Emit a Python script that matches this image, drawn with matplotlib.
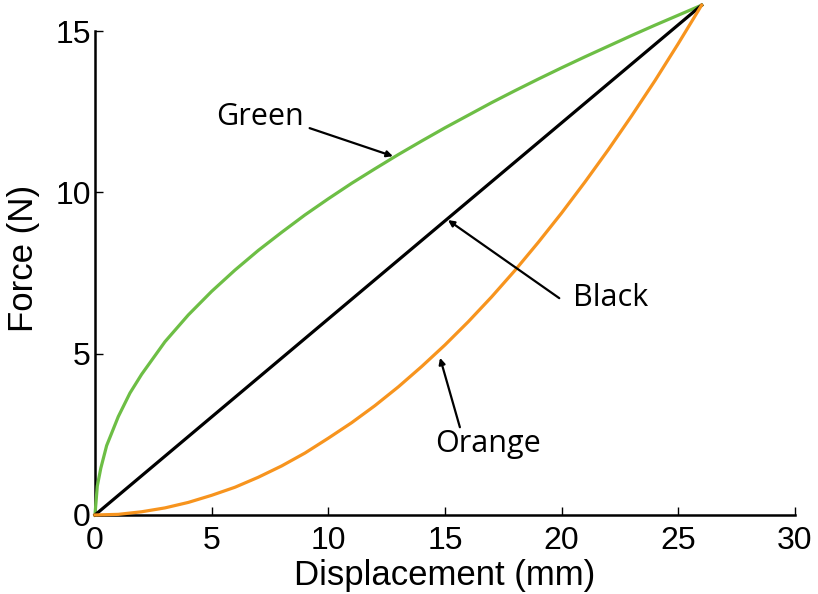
import numpy as np
import matplotlib
matplotlib.use('Agg')
import matplotlib.pyplot as plt

# values (displacement in mm, force in N)
green_x = [0, 0.1, 0.25, 0.5, 1, 1.5, 2, 3, 4, 5, 6, 7, 8, 9, 10, 11, 12, 13,
           14, 15, 16, 17, 18, 19, 20, 21, 22, 23, 24, 25, 26]
green_y = [0, 0.9, 1.45, 2.15, 3.05, 3.78, 4.36, 5.37, 6.2, 6.93, 7.59, 8.2,
           8.76, 9.3, 9.8, 10.28, 10.73, 11.17, 11.59, 12.0, 12.39, 12.78,
           13.15, 13.51, 13.86, 14.2, 14.53, 14.86, 15.18, 15.49, 15.8]

black_x = [0, 26]
black_y = [0, 15.8]

orange_x = [0, 1, 2, 3, 4, 5, 6, 7, 8, 9, 10, 11, 12, 13, 14, 15, 16, 17, 18,
            19, 20, 21, 22, 23, 24, 25, 26]
orange_y = [0, 0.02, 0.1, 0.22, 0.39, 0.61, 0.86, 1.17, 1.52, 1.92, 2.38,
            2.86, 3.39, 3.97, 4.6, 5.27, 5.99, 6.76, 7.58, 8.45, 9.36, 10.32,
            11.32, 12.37, 13.46, 14.61, 15.8]

# label text position, arrow tail, arrow head
labels = ['Green', 'Black', 'Orange']
label_pos = [(7.07, 12.33), (22.1, 6.72), (16.85, 2.2)]
arrow_tail = [(9.2, 11.99), (19.9, 6.72), (15.64, 2.72)]
arrow_head = [(12.77, 11.12), (15.13, 9.14), (14.79, 4.87)]

GREEN = '#6dbe45'
ORANGE = '#f7941e'


def main(filename='out.png'):
    fig = plt.figure(figsize=(8.18, 5.94), dpi=100)
    ax = fig.add_axes([0.1161, 0.133, 0.8557, 0.8148])

    ax.plot(green_x, green_y, color=GREEN, lw=2.3, clip_on=False, zorder=3)
    ax.plot(black_x, black_y, color='black', lw=2.3, clip_on=False, zorder=3)
    ax.plot(orange_x, orange_y, color=ORANGE, lw=2.3, clip_on=False, zorder=3)

    ax.set_xlim(0, 30)
    ax.set_ylim(0, 15)
    ax.set_xticks([0, 5, 10, 15, 20, 25, 30])
    ax.set_yticks([0, 5, 10, 15])

    for s in ['top', 'right']:
        ax.spines[s].set_visible(False)
    for s in ['left', 'bottom']:
        ax.spines[s].set_linewidth(1.8)

    tickfont = 'Liberation Sans'
    ax.tick_params(direction='in', length=6, width=1, labelsize=23)
    ax.tick_params(axis='x', pad=8)
    ax.tick_params(axis='y', pad=3)
    for lab in ax.get_xticklabels() + ax.get_yticklabels():
        lab.set_fontfamily(tickfont)

    ax.set_xlabel('Displacement (mm)', fontsize=25, family=tickfont,
                  labelpad=2)
    ax.set_ylabel('Force (N)', fontsize=25, family=tickfont)
    ax.yaxis.set_label_coords(-0.078, 0.53)

    for text, pos, tail, head in zip(labels, label_pos, arrow_tail, arrow_head):
        ax.text(pos[0], pos[1], text, fontsize=22, family='Open Sans',
                ha='center', va='center')
        ax.annotate('', xy=head, xytext=tail,
                    arrowprops=dict(arrowstyle='-|>', color='black', lw=1.6,
                                    mutation_scale=9, shrinkA=0, shrinkB=0))

    fig.savefig(filename, dpi=100)


if __name__ == '__main__':
    main()
